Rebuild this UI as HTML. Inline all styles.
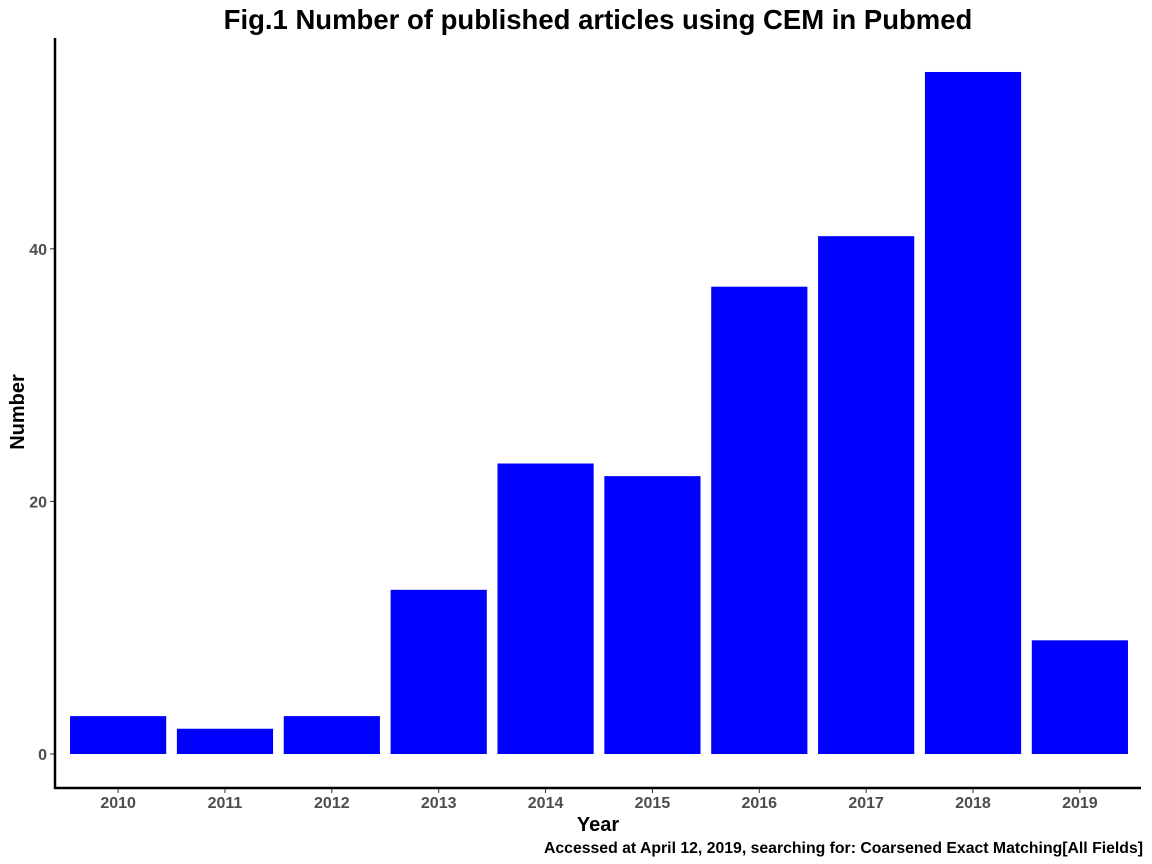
<!DOCTYPE html>
<html><head><meta charset="utf-8"><style>
body{margin:0;background:#fff}
svg{display:block;font-family:"Liberation Sans",Arial,sans-serif}
</style></head><body>
<svg id="chart" width="1152" height="864">
<text x="598" y="29" text-anchor="middle" font-size="27.5" font-weight="bold">Fig.1 Number of published articles using CEM in Pubmed</text>
<g id="bars"></g>
<g id="axes"></g>
<text transform="translate(24,412) rotate(-90)" text-anchor="middle" font-size="20" font-weight="bold">Number</text>
<text x="598" y="831" text-anchor="middle" font-size="20" font-weight="bold">Year</text>
<text x="1143" y="853" text-anchor="end" font-size="15.8" font-weight="bold">Accessed at April 12, 2019, searching for: Coarsened Exact Matching[All Fields]</text>
</svg>
<script>
const categories=["2010","2011","2012","2013","2014","2015","2016","2017","2018","2019"];
const values=[3,2,3,13,23,22,37,41,54,9];
const yTicks=[0,20,40];
const ns="http://www.w3.org/2000/svg";
const x0=54,x1=1144,yBase=754,pxPerUnit=12.63;
const step=(x1-x0)/(categories.length+0.2);
function xc(i){return x0+step*(0.6+i);}
function y(v){return yBase-v*pxPerUnit;}
function mk(tag,attrs,parent){const e=document.createElementNS(ns,tag);for(const k in attrs)e.setAttribute(k,attrs[k]);parent.appendChild(e);return e;}
const bars=document.getElementById('bars'),axes=document.getElementById('axes');
values.forEach((v,i)=>{
 const w=step*0.9;
 const r=mk('rect',{x:xc(i)-w/2,y:y(v),width:w,height:yBase-y(v),fill:'#0000ff'},bars);
 
 
 const t=mk('text',{x:xc(i),y:808,'text-anchor':'middle','font-size':16,'font-weight':'bold',fill:'#4d4d4d'},axes);
 t.textContent=categories[i];
 
 
 mk('line',{x1:xc(i),x2:xc(i),y1:788,y2:793,stroke:'#333','stroke-width':1},axes);
});
yTicks.forEach(v=>{
 const t=mk('text',{x:47,y:y(v)+6,'text-anchor':'end','font-size':16,'font-weight':'bold',fill:'#4d4d4d'},axes);
 t.textContent=v;
 
 
 mk('line',{x1:50,x2:55,y1:y(v),y2:y(v),stroke:'#333','stroke-width':1},axes);
});
const ya=mk('line',{x1:55,x2:55,y1:38,y2:789,stroke:'#000','stroke-width':2.5},axes);


const xa=mk('line',{x1:54,x2:1141,y1:788,y2:788,stroke:'#000','stroke-width':2.5},axes);


</script>
</body></html>
